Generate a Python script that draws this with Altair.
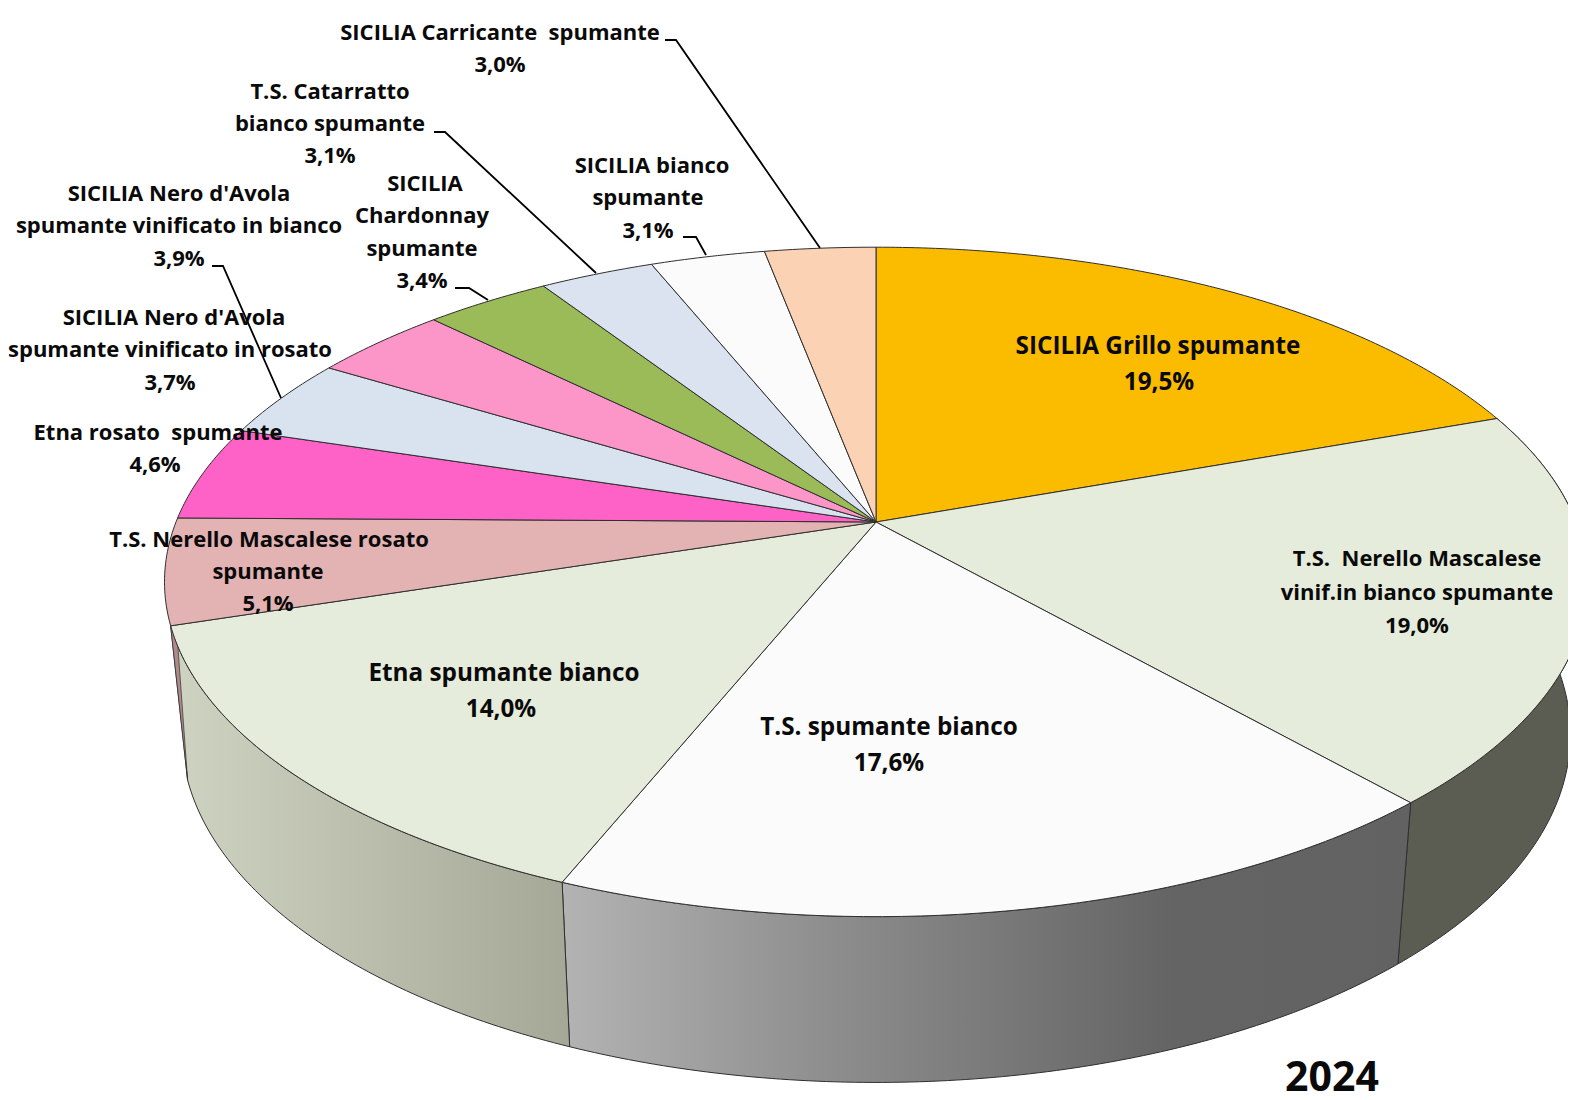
import math
import altair as alt
import pandas as pd

# ---- values ----
names = ["SICILIA Grillo spumante", "T.S. Nerello Mascalese vinif.in bianco spumante",
         "T.S. spumante bianco", "Etna spumante bianco", "T.S. Nerello Mascalese rosato spumante",
         "Etna rosato spumante", "SICILIA Nero d'Avola spumante vinificato in bianco",
         "SICILIA Nero d'Avola spumante vinificato in rosato", "SICILIA Chardonnay spumante",
         "T.S. Catarratto bianco spumante", "SICILIA bianco spumante", "SICILIA Carricante spumante"]
shares = [19.5, 19.0, 17.6, 14.0, 5.1, 4.6, 3.9, 3.7, 3.4, 3.1, 3.1, 3.0]
top_colors = ["#FBBC00", "#E6ECDB", "#FBFBFB", "#E6ECDB", "#E3B3B3", "#FF62C7",
              "#D9E3EF", "#FD96C8", "#9BBB59", "#DAE3EF", "#FBFBFB", "#FBD2B4"]

# ---- label text rows: text, centre x, centre y, size ----
SMALL, BIG, YEAR = 22, 24.3, 41
label_rows = [
    ("SICILIA Carricante\u00a0 spumante", 500, 33, SMALL), ("3,0%", 500, 65, SMALL),
    ("T.S. Catarratto", 330, 92, SMALL), ("bianco spumante", 330, 124, SMALL), ("3,1%", 330, 156, SMALL),
    ("SICILIA Nero d'Avola", 179, 194, SMALL), ("spumante vinificato in bianco", 179, 226, SMALL), ("3,9%", 179, 259, SMALL),
    ("SICILIA", 425, 184, SMALL), ("Chardonnay", 422, 216, SMALL), ("spumante", 422, 249, SMALL), ("3,4%", 422, 281, SMALL),
    ("SICILIA bianco", 652, 166, SMALL), ("spumante", 648, 198, SMALL), ("3,1%", 648, 231, SMALL),
    ("SICILIA Nero d'Avola", 174, 318, SMALL), ("spumante vinificato in rosato", 170, 350, SMALL), ("3,7%", 170, 383, SMALL),
    ("Etna rosato\u00a0 spumante", 158, 433, SMALL), ("4,6%", 155, 465, SMALL),
    ("T.S. Nerello Mascalese rosato", 269, 540, SMALL), ("spumante", 268, 572, SMALL), ("5,1%", 268, 604, SMALL),
    ("SICILIA Grillo spumante", 1158, 346.5, BIG), ("19,5%", 1159, 382.5, BIG),
    ("T.S.\u00a0 Nerello Mascalese", 1417, 559, SMALL), ("vinif.in bianco spumante", 1417, 593, SMALL), ("19,0%", 1417, 626, SMALL),
    ("T.S. spumante bianco", 889, 727.5, BIG), ("17,6%", 889, 763.5, BIG),
    ("Etna spumante bianco", 504, 673.5, BIG), ("14,0%", 501, 709.5, BIG),
    ("2024", 1332, 1078.5, YEAR),
]

# ---- leader lines ----
leaders = [
    [(665, 40), (676, 40), (820, 248)],
    [(434, 132), (445, 132), (596, 273)],
    [(212, 266), (223, 266), (281, 398)],
    [(455, 288), (469, 288), (488, 300)],
    [(683, 237), (696, 237), (706, 255)],
]

# ---- projection of the tilted disc (perspective ellipse) ----
CX, CY = 876.0, 522.0
AX, BY, K = 700.0, 324.0, 0.179
BOTTOM_SX, BOTTOM_SY, BOTTOM_Y = 0.976, 1.04, 672.0


def rim(t):
    d = 1 + K * math.cos(t)
    return CX + AX * math.sin(t) / d, CY - BY * math.cos(t) / d


def lower(t):
    x, y = rim(t)
    return CX + (x - CX) * BOTTOM_SX, BOTTOM_Y + (y - CY) * BOTTOM_SY


def arc(fn, a, b):
    n = max(4, int(abs(b - a) * 90))
    return [fn(a + (b - a) * i / n) for i in range(n + 1)]


W, H = 1560, 1092
sx = alt.Scale(domain=[8, 8 + W], range=[0, W])
sy = alt.Scale(domain=[8, 8 + H], range=[0, H])


def poly(points, fill, stroke="#2f2f2f", width=1.0):
    pts = list(points) + [points[0]]
    df = pd.DataFrame({"x": [p[0] for p in pts], "y": [p[1] for p in pts], "i": list(range(len(pts)))})
    return alt.Chart(df).mark_line(fill=fill, stroke=stroke, strokeWidth=width, clip=True, strokeJoin="round").encode(
        x=alt.X("x:Q", scale=sx, axis=None), y=alt.Y("y:Q", scale=sy, axis=None), order=alt.Order("i:Q"))


def grad(stops):
    return alt.Gradient(gradient="linear", x1=0, x2=1, y1=0, y2=0,
                        stops=[alt.GradientStop(offset=o, color=c) for o, c in stops])


angles = [0.0]
for s in shares:
    angles.append(angles[-1] + s / 100 * 2 * math.pi)

layers = []
# side walls (only the front slices show)
side_fill = {
    1: "#5C5D52",
    2: grad([(0, "#B3B3B3"), (0.33, "#8C8C8C"), (0.72, "#646464"), (1, "#626262")]),
    3: grad([(0, "#CFD3C1"), (1, "#A5A897")]),
}
for i in (1, 2, 3):
    a, b = angles[i], angles[i + 1]
    layers.append(poly(arc(rim, a, b) + arc(lower, b, a), side_fill[i]))
# thin visible sliver of the rosato wall
t = angles[4]
layers.append(poly([rim(t - 0.06), rim(t), lower(t)], "#B08A8A", width=0.7))
# top slices
for i, c in enumerate(top_colors):
    layers.append(poly([(CX, CY)] + arc(rim, angles[i], angles[i + 1]), c))

# leaders
for j, pts in enumerate(leaders):
    df = pd.DataFrame({"x": [p[0] for p in pts], "y": [p[1] for p in pts], "i": list(range(len(pts)))})
    layers.append(alt.Chart(df).mark_line(color="#000000", strokeWidth=1.8).encode(
        x=alt.X("x:Q", scale=sx, axis=None), y=alt.Y("y:Q", scale=sy, axis=None), order=alt.Order("i:Q")))

# text
for size in (SMALL, BIG, YEAR):
    df = pd.DataFrame([r for r in label_rows if r[3] == size], columns=["t", "x", "y", "s"])
    layers.append(alt.Chart(df).mark_text(font="Open Sans", fontWeight="bold", fontSize=size, color="#0A0A0A",
                                          baseline="middle", align="center").encode(
        x=alt.X("x:Q", scale=sx, axis=None), y=alt.Y("y:Q", scale=sy, axis=None), text="t:N"))

chart = alt.layer(*layers).properties(
    width=W, height=H, padding=0, background="white",
    autosize=alt.AutoSizeParams(type="none"),
).configure_view(stroke=None)

chart.save("out.html", embed_options={"renderer": "svg", "actions": False})
